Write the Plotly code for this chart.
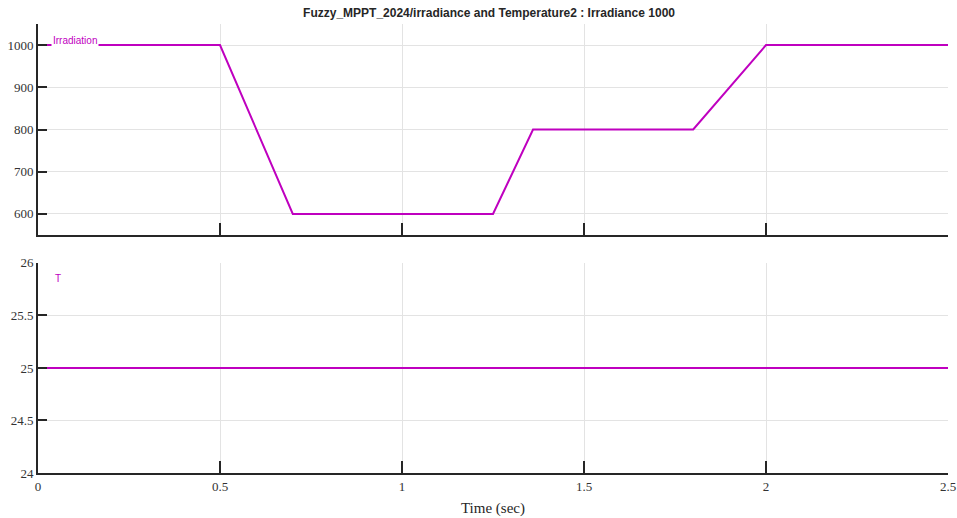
import plotly.graph_objects as go

time_irr = [0, 0.5, 0.7, 1.25, 1.36, 1.8, 2.0, 2.5]
irradiance = [1000, 1000, 600, 600, 800, 800, 1000, 1000]
time_temp = [0, 2.5]
temperature = [25, 25]
x_ticks = [0, 0.5, 1, 1.5, 2, 2.5]
irr_ticks = [600, 700, 800, 900, 1000]
temp_ticks = [24, 24.5, 25, 25.5, 26]
temp_ticklabels = ["24", "24.5", "25", "25.5", "26"]

LINE = "#bf00bf"
GRID = "#e3e3e3"
AX = "#262626"

fig = go.Figure()
fig.add_trace(go.Scatter(x=time_irr, y=irradiance, mode="lines",
                         line=dict(color=LINE, width=2), xaxis="x", yaxis="y", showlegend=False))
fig.add_trace(go.Scatter(x=time_temp, y=temperature, mode="lines",
                         line=dict(color=LINE, width=2), xaxis="x2", yaxis="y2", showlegend=False))

tickfont = dict(family="Liberation Serif", size=13, color="#333333")
common_x = dict(range=[0, 2.5], tickvals=x_ticks, showgrid=True, gridcolor=GRID, gridwidth=1,
                showline=True, linecolor=AX, linewidth=2, ticks="inside", ticklen=12,
                tickcolor=AX, tickwidth=1.5, zeroline=False, tickfont=tickfont, automargin=False)
common_y = dict(showgrid=True, gridcolor=GRID, gridwidth=1, showline=True, linecolor=AX,
                linewidth=2, ticks="inside", ticklen=9, tickcolor=AX, tickwidth=1.5,
                zeroline=False, tickfont=tickfont, automargin=False)

fig.update_layout(
    width=957, height=518,
    margin=dict(l=38, r=9, t=24, b=45, autoexpand=False),
    font=dict(family="Liberation Serif", size=13, color="#333333"),
    plot_bgcolor="white", paper_bgcolor="white",
    xaxis=dict(**common_x, anchor="y", showticklabels=False),
    yaxis=dict(**common_y, domain=[0.530, 1.0], range=[550, 1050], tickvals=irr_ticks),
    xaxis2=dict(**common_x, anchor="y2",
                title=dict(text="Time (sec)", font=dict(family="Liberation Serif", size=15, color="#262626"), standoff=10)),
    yaxis2=dict(**common_y, domain=[0.0, 0.468], range=[24, 26], tickvals=temp_ticks,
                ticktext=temp_ticklabels),
    title=dict(text="<b>Fuzzy_MPPT_2024/irradiance and Temperature2 : Irradiance 1000</b>",
               x=0.511, xanchor="center", y=0.975, yanchor="middle",
               font=dict(family="Liberation Sans Narrow, Liberation Sans", size=12, color="#262626")),
    annotations=[
        dict(text="Irradiation", xref="paper", yref="paper", x=0.0145, y=(473 - 40) / 449,
             xanchor="left", yanchor="middle", showarrow=False, bgcolor="white", borderpad=1,
             font=dict(family="Liberation Sans Narrow, Liberation Sans", size=10, color=LINE)),
        dict(text="T", xref="paper", yref="paper", x=0.0165, y=(473 - 278) / 449,
             xanchor="left", yanchor="middle", showarrow=False,
             font=dict(family="Liberation Sans Narrow, Liberation Sans", size=10, color=LINE)),
    ],
)

fig.write_html("out.html", config={"displayModeBar": False},
               post_script="document.body.style.margin='0';document.body.style.overflow='hidden';")
